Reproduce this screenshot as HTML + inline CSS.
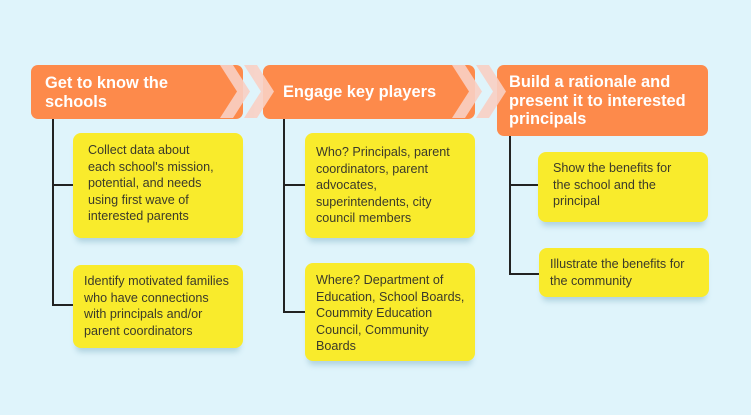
<!DOCTYPE html>
<html><head><style>
body{margin:0;width:751px;height:415px;background:#dff4fb;position:relative;overflow:hidden;font-family:"Liberation Sans",Arial,sans-serif}
.o{position:absolute;background:#fd8a4b;border-radius:7px;color:#fff;font-weight:bold;font-size:16.4px;line-height:18.5px;box-sizing:border-box}
.y{position:absolute;background:#f9eb2c;border-radius:8px;color:#3b3a2a;font-size:12.6px;line-height:16.6px;box-sizing:border-box;box-shadow:0 7px 6px -3px rgba(120,170,190,.45)}
.l{position:absolute;background:#222}
</style></head><body>
<div class="o" style="left:31px;top:65px;width:212px;height:54px;padding:9px 0 0 14px">Get to know the<br>schools</div>
<div class="o" style="left:263px;top:65px;width:212px;height:54px;padding:18px 0 0 20px">Engage key players</div>
<div class="o" style="left:497px;top:65px;width:211px;height:71px;padding:8px 0 0 12px">Build a rationale and<br>present it to interested<br>principals</div>
<svg style="position:absolute;left:0;top:0" width="751" height="415">
<g fill="#f9d0c4" opacity="0.9">
<polygon points="220,65 233,65 250,91.5 233,118 220,118 237,91.5"/>
<polygon points="244,65 257,65 274,91.5 257,118 244,118 261,91.5"/>
<polygon points="452,65 465,65 482,91.5 465,118 452,118 469,91.5"/>
<polygon points="476,65 489,65 506,91.5 489,118 476,118 493,91.5"/>
</g></svg>
<div class="l" style="left:52px;top:119px;width:2px;height:187px"></div>
<div class="l" style="left:52px;top:184px;width:21px;height:2px"></div>
<div class="l" style="left:52px;top:304px;width:21px;height:2px"></div>
<div class="l" style="left:283px;top:119px;width:2px;height:194px"></div>
<div class="l" style="left:283px;top:184px;width:22px;height:2px"></div>
<div class="l" style="left:283px;top:311px;width:22px;height:2px"></div>
<div class="l" style="left:509px;top:136px;width:2px;height:139px"></div>
<div class="l" style="left:509px;top:184px;width:29px;height:2px"></div>
<div class="l" style="left:509px;top:273px;width:30px;height:2px"></div>
<div class="y" style="left:73px;top:133px;width:170px;height:105px;padding:9px 0 0 15px">Collect data about<br>each school's mission,<br>potential, and needs<br>using first wave of<br>interested parents</div>
<div class="y" style="left:73px;top:265px;width:170px;height:83px;padding:8px 0 0 11px">Identify motivated families<br>who have connections<br>with principals and/or<br>parent coordinators</div>
<div class="y" style="left:305px;top:133px;width:170px;height:105px;padding:11px 0 0 11px">Who? Principals, parent<br>coordinators, parent<br>advocates,<br>superintendents, city<br>council members</div>
<div class="y" style="left:305px;top:263px;width:170px;height:98px;padding:9px 0 0 11px">Where? Department of<br>Education, School Boards,<br>Coummity Education<br>Council, Community<br>Boards</div>
<div class="y" style="left:538px;top:152px;width:170px;height:70px;padding:8px 0 0 15px">Show the benefits for<br>the school and the<br>principal</div>
<div class="y" style="left:539px;top:248px;width:170px;height:49px;padding:8px 0 0 11px">Illustrate the benefits for<br>the community</div>
</body></html>
